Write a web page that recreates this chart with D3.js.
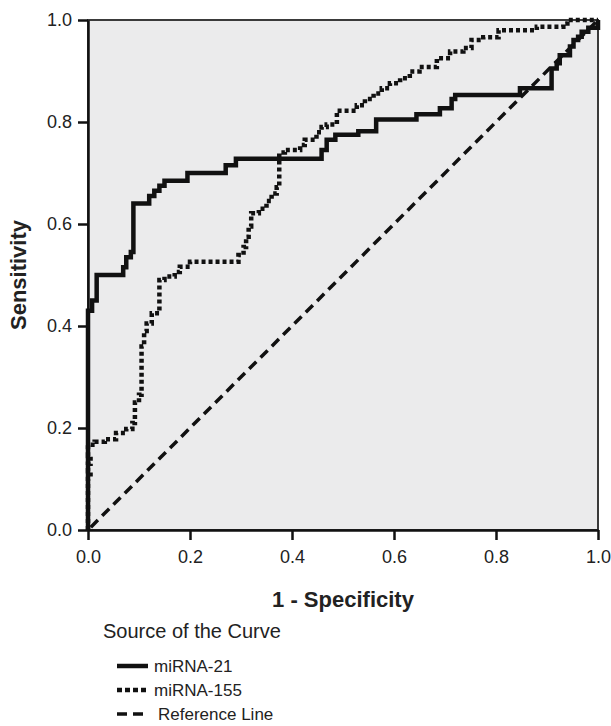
<!DOCTYPE html>
<html>
<head>
<meta charset="utf-8">
<script src="https://cdn.jsdelivr.net/npm/d3@7"></script>
<style>
  body { margin: 0; background: #fff; }
  svg text { font-family: "Liberation Sans", Arial, sans-serif; fill: #222; }
</style>
</head>
<body>
<div id="chart"></div>
<script>
// ROC curves: [1 - specificity, sensitivity]
var mir21Points = [
  [0, 0], [0, 0.43], [0.008, 0.43], [0.008, 0.45], [0.017, 0.45], [0.017, 0.5],
  [0.069, 0.5], [0.069, 0.515], [0.075, 0.515], [0.075, 0.535], [0.084, 0.535],
  [0.084, 0.545], [0.089, 0.545], [0.089, 0.64], [0.12, 0.64], [0.12, 0.655],
  [0.13, 0.655], [0.13, 0.665], [0.14, 0.665], [0.14, 0.675], [0.15, 0.675],
  [0.15, 0.685], [0.195, 0.685], [0.195, 0.7], [0.27, 0.7], [0.27, 0.715],
  [0.29, 0.715], [0.29, 0.728], [0.458, 0.728], [0.458, 0.745], [0.468, 0.745],
  [0.468, 0.765], [0.485, 0.765], [0.485, 0.775], [0.53, 0.775], [0.53, 0.782],
  [0.565, 0.782], [0.565, 0.805], [0.644, 0.805], [0.644, 0.815], [0.69, 0.815],
  [0.69, 0.827], [0.713, 0.827], [0.713, 0.845], [0.72, 0.845], [0.72, 0.853],
  [0.847, 0.853], [0.847, 0.866], [0.909, 0.866], [0.909, 0.905], [0.919, 0.905],
  [0.919, 0.915], [0.925, 0.915], [0.925, 0.931], [0.945, 0.931], [0.945, 0.948],
  [0.952, 0.948], [0.952, 0.961], [0.961, 0.961], [0.961, 0.967], [0.968, 0.967],
  [0.968, 0.977], [0.981, 0.977], [0.981, 0.985], [1, 0.985], [1, 1]
];

var mir155Points = [
  [0, 0], [0, 0.1], [0.005, 0.1], [0.005, 0.115], [0, 0.115], [0, 0.13],
  [0.005, 0.13], [0.005, 0.145], [0, 0.145], [0, 0.167], [0.013, 0.167],
  [0.013, 0.173], [0.033, 0.173], [0.033, 0.178], [0.055, 0.178], [0.055, 0.19],
  [0.075, 0.19], [0.075, 0.198], [0.087, 0.198], [0.087, 0.21], [0.092, 0.21],
  [0.092, 0.25], [0.1, 0.25], [0.1, 0.265], [0.105, 0.265], [0.105, 0.36],
  [0.11, 0.36], [0.11, 0.39], [0.115, 0.39], [0.115, 0.405], [0.125, 0.405],
  [0.125, 0.425], [0.14, 0.425], [0.14, 0.49], [0.15, 0.49], [0.15, 0.497],
  [0.17, 0.497], [0.17, 0.506], [0.18, 0.506], [0.18, 0.516], [0.2, 0.516],
  [0.2, 0.526], [0.295, 0.526], [0.295, 0.539], [0.305, 0.539], [0.305, 0.555],
  [0.31, 0.555], [0.31, 0.575], [0.315, 0.575], [0.315, 0.595], [0.32, 0.595],
  [0.32, 0.621], [0.335, 0.621], [0.335, 0.63], [0.35, 0.63], [0.35, 0.645],
  [0.36, 0.645], [0.36, 0.66], [0.37, 0.66], [0.37, 0.672], [0.375, 0.672],
  [0.375, 0.74], [0.386, 0.74], [0.386, 0.745], [0.416, 0.745], [0.416, 0.755],
  [0.425, 0.755], [0.425, 0.765], [0.448, 0.765], [0.448, 0.78], [0.458, 0.78],
  [0.458, 0.79], [0.468, 0.79], [0.468, 0.795], [0.488, 0.795], [0.488, 0.822],
  [0.527, 0.822], [0.527, 0.833], [0.543, 0.833], [0.543, 0.845], [0.56, 0.845],
  [0.56, 0.856], [0.576, 0.856], [0.576, 0.866], [0.592, 0.866], [0.592, 0.876],
  [0.612, 0.876], [0.612, 0.886], [0.631, 0.886], [0.631, 0.899], [0.65, 0.899],
  [0.65, 0.908], [0.684, 0.908], [0.684, 0.925], [0.71, 0.925], [0.71, 0.938],
  [0.736, 0.938], [0.736, 0.945], [0.752, 0.945], [0.752, 0.961], [0.775, 0.961],
  [0.775, 0.966], [0.805, 0.966], [0.805, 0.98], [0.88, 0.98], [0.88, 0.987],
  [0.932, 0.987], [0.932, 0.993], [0.94, 0.993], [0.94, 1], [1, 1]
];

var referencePoints = [[0, 0], [1, 1]];

var tickValues = [0, 0.2, 0.4, 0.6, 0.8, 1.0];

var legendItems = [
  { name: "miRNA-21", dash: null, width: 4.5 },
  { name: "miRNA-155", dash: "5,3", width: 4.5 },
  { name: "Reference Line", dash: "10,6", width: 3.5 }
];

var width = 611,
  height = 726;
var plot = { left: 88, top: 20, right: 598, bottom: 530 };

var svg = d3
  .select("#chart")
  .append("svg")
  .attr("width", width)
  .attr("height", height);

var x = d3.scaleLinear().domain([0, 1]).range([plot.left, plot.right]);
var y = d3.scaleLinear().domain([0, 1]).range([plot.bottom, plot.top]);

// plot background + frame
svg
  .append("rect")
  .attr("x", plot.left)
  .attr("y", plot.top)
  .attr("width", plot.right - plot.left)
  .attr("height", plot.bottom - plot.top)
  .attr("fill", "#ebebec")
  .attr("stroke", "#3a3a3a")
  .attr("stroke-width", 2);

var lineFunction = d3
  .line()
  .x(function (d) {
    return x(d[0]);
  })
  .y(function (d) {
    return y(d[1]);
  });

var curves = svg.append("g");

curves
  .append("path")
  .attr("d", lineFunction(referencePoints))
  .attr("fill", "none")
  .attr("stroke", "#111")
  .attr("stroke-width", 3.5)
  .attr("stroke-dasharray", "10,6")
  .attr("stroke-dashoffset", -4);

curves
  .append("path")
  .attr("d", lineFunction(mir155Points))
  .attr("fill", "none")
  .attr("stroke", "#111")
  .attr("stroke-width", 4.5)
  .attr("stroke-dasharray", "4,3");

curves
  .append("path")
  .attr("d", lineFunction(mir21Points))
  .attr("fill", "none")
  .attr("stroke", "#111")
  .attr("stroke-width", 4.5);

// axes
var fmt = d3.format(".1f");

var yAxis = svg
  .append("g")
  .attr("transform", "translate(" + plot.left + ",0)")
  .call(d3.axisLeft(y).tickValues(tickValues).tickFormat(fmt).tickSize(10).tickSizeOuter(0).tickPadding(6));

var xAxis = svg
  .append("g")
  .attr("transform", "translate(0," + plot.bottom + ")")
  .call(d3.axisBottom(x).tickValues(tickValues).tickFormat(fmt).tickSize(10).tickSizeOuter(0).tickPadding(10));

[xAxis, yAxis].forEach(function (a) {
  a.select(".domain").attr("stroke", "#111").attr("stroke-width", 2.5);
  a.selectAll(".tick line").attr("stroke", "#111").attr("stroke-width", 2.5);
  a.selectAll(".tick text")
    .attr("font-size", 18)
    .attr("fill", "#222")
    .style("font-family", '"Liberation Sans", Arial, sans-serif');
});

// axis titles
svg
  .append("text")
  .attr("x", (plot.left + plot.right) / 2)
  .attr("y", 607)
  .attr("text-anchor", "middle")
  .attr("font-size", 22)
  .attr("font-weight", "bold")
  .text("1 - Specificity");

svg
  .append("text")
  .attr("transform", "translate(26," + (plot.top + plot.bottom) / 2 + ") rotate(-90)")
  .attr("text-anchor", "middle")
  .attr("font-size", 22)
  .attr("font-weight", "bold")
  .text("Sensitivity");

// legend
svg
  .append("text")
  .attr("x", 103)
  .attr("y", 638)
  .attr("font-size", 20)
  .text("Source of the Curve");

var legend = svg
  .selectAll(".legend-item")
  .data(legendItems)
  .enter()
  .append("g")
  .attr("class", "legend-item")
  .attr("transform", function (d, i) {
    return "translate(117," + (666 + i * 24) + ")";
  });

legend
  .append("line")
  .attr("x1", 0)
  .attr("x2", function (d) {
    return d.dash === "10,6" ? 27 : 31;
  })
  .attr("stroke", "#111")
  .attr("stroke-width", function (d) {
    return d.width;
  })
  .attr("stroke-dasharray", function (d) {
    return d.dash;
  });

legend
  .append("text")
  .attr("x", function (d) {
    return d.dash === "10,6" ? 41 : 37;
  })
  .attr("y", 6)
  .attr("font-size", 17)
  .text(function (d) {
    return d.name;
  });
</script>
</body>
</html>
